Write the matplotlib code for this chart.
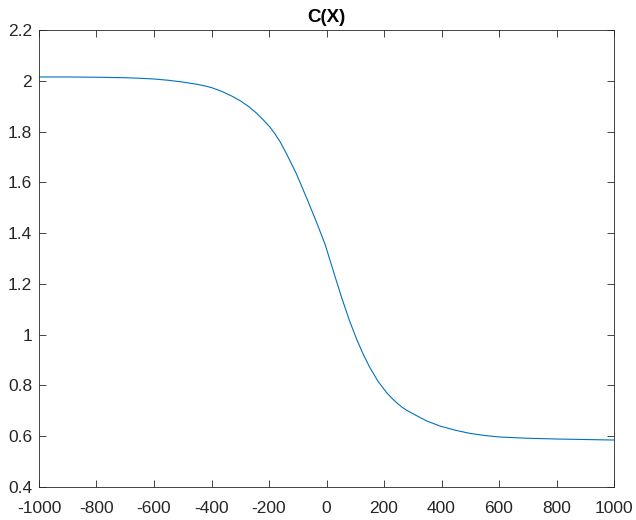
import matplotlib
matplotlib.use('Agg')
import matplotlib.pyplot as plt
import numpy as np

# sampled values of C(X)
x_vals = [-1000, -900, -800, -700, -650, -600, -550, -500, -450, -420, -400, -380, -360, -330,
          -301, -270, -243, -220, -197, -180, -162, -138, -104, -69, -34, -5, 18, 30,
          53, 80, 105, 128, 151, 180, 209, 228, 245, 262, 279, 315, 349, 395, 450, 500, 550,
          600, 700, 800, 900, 1000]
c_vals = [2.015, 2.015, 2.014, 2.012, 2.010, 2.007, 2.002, 1.995, 1.986, 1.979, 1.973, 1.965, 1.956, 1.940,
          1.922, 1.898, 1.872, 1.846, 1.818, 1.792, 1.761, 1.710, 1.632, 1.538, 1.441, 1.356,
          1.272, 1.228, 1.145, 1.055, 0.982, 0.922, 0.870, 0.815, 0.772, 0.749, 0.731, 0.715, 0.702, 0.680,
          0.660, 0.640, 0.623, 0.611, 0.603, 0.597, 0.592, 0.589, 0.587, 0.585]

x_ticks = [-1000, -800, -600, -400, -200, 0, 200, 400, 600, 800, 1000]
y_ticks = [0.4, 0.6, 0.8, 1, 1.2, 1.4, 1.6, 1.8, 2, 2.2]

plt.rcParams['font.family'] = ['Liberation Sans', 'DejaVu Sans']

fig = plt.figure(figsize=(6.36, 5.2), dpi=100)
ax = fig.add_axes([39 / 636, 1 - 487 / 520, 575 / 636, 457 / 520])

ax.plot(x_vals, c_vals, color='#0072BD', linewidth=0.8)

ax.set_xlim(-1000, 1000)
ax.set_ylim(0.4, 2.2)
ax.set_xticks(x_ticks)
ax.set_xticklabels([str(t) for t in x_ticks])
ax.set_yticks(y_ticks)
ax.set_yticklabels([('%g' % t) for t in y_ticks])

ax.tick_params(direction='in', length=5, width=0.6, colors='#262626',
               labelsize=12.5, top=True, right=True)
ax.tick_params(axis='x', pad=10)
ax.tick_params(axis='y', pad=5)
for s in ax.spines.values():
    s.set_color('#262626')
    s.set_linewidth(0.6)

ax.set_title('C(X)', fontsize=13.5, fontweight='bold', pad=6)

plt.savefig('out.png', dpi=100)
